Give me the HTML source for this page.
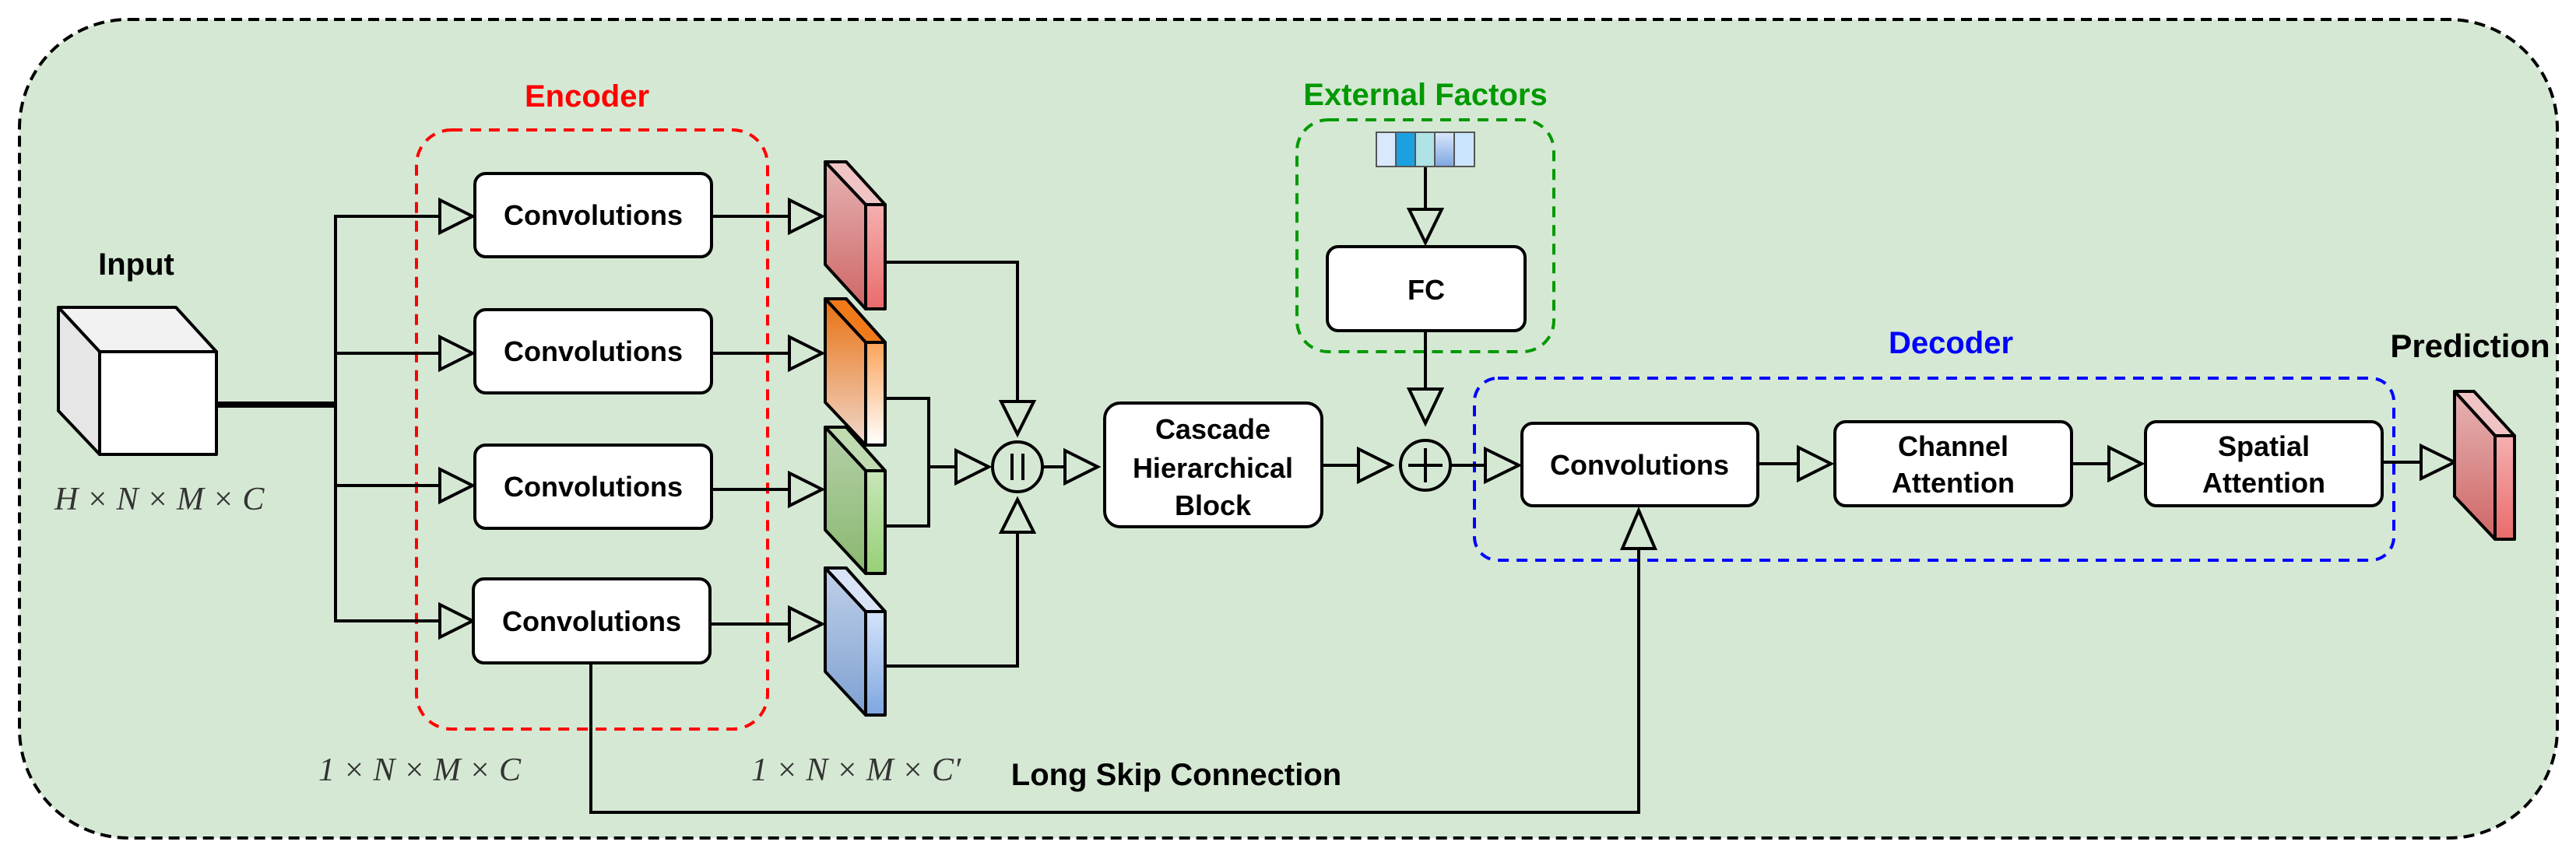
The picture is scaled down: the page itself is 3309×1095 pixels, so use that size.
<!DOCTYPE html>
<html><head><meta charset="utf-8"><style>
html,body{margin:0;padding:0;background:#fff}
svg{display:block}
text{font-family:"Liberation Sans",sans-serif;font-weight:bold}
.m{font-family:"Liberation Serif",serif;font-style:italic;font-weight:normal;font-size:42px;fill:#333}
</style></head><body>
<svg width="3309" height="1095" viewBox="0 0 3309 1095" xmlns="http://www.w3.org/2000/svg">
<defs>
<linearGradient id="rs" x1="0" y1="0" x2="0" y2="1"><stop offset="0" stop-color="#e6b3b3"/><stop offset="1" stop-color="#cf6666"/></linearGradient>
<linearGradient id="rf" x1="0" y1="0" x2="0" y2="1"><stop offset="0" stop-color="#f5b0b0"/><stop offset="1" stop-color="#ea6b6b"/></linearGradient>
<linearGradient id="os" x1="0" y1="0" x2="0" y2="1"><stop offset="0" stop-color="#e8700f"/><stop offset="1" stop-color="#f0d8cc"/></linearGradient>
<linearGradient id="of" x1="0" y1="0" x2="0" y2="1"><stop offset="0" stop-color="#fba35a"/><stop offset="1" stop-color="#ffffff"/></linearGradient>
<linearGradient id="gs" x1="0" y1="0" x2="0" y2="1"><stop offset="0" stop-color="#b5d0a8"/><stop offset="1" stop-color="#8ab870"/></linearGradient>
<linearGradient id="gf" x1="0" y1="0" x2="0" y2="1"><stop offset="0" stop-color="#c8e6b8"/><stop offset="1" stop-color="#97d077"/></linearGradient>
<linearGradient id="bs" x1="0" y1="0" x2="0" y2="1"><stop offset="0" stop-color="#c0d0e8"/><stop offset="1" stop-color="#7ea1d2"/></linearGradient>
<linearGradient id="bf" x1="0" y1="0" x2="0" y2="1"><stop offset="0" stop-color="#d4e3fa"/><stop offset="1" stop-color="#7ea6e0"/></linearGradient>
<linearGradient id="vc" x1="0" y1="0" x2="0" y2="1"><stop offset="0" stop-color="#dae8fc"/><stop offset="1" stop-color="#7ea6e0"/></linearGradient>
</defs>
<!-- outer -->
<rect x="25" y="25" width="3260" height="1052" rx="140" fill="#d5e8d4" stroke="#000" stroke-width="4" stroke-dasharray="14,8"/>
<!-- group boxes -->
<rect x="535" y="167" width="451" height="770" rx="45" fill="none" stroke="#ff0000" stroke-width="4" stroke-dasharray="14,10"/>
<rect x="1666" y="154" width="330" height="298" rx="40" fill="none" stroke="#009900" stroke-width="4" stroke-dasharray="14,10"/>
<rect x="1894" y="486" width="1181" height="234" rx="30" fill="none" stroke="#0000ff" stroke-width="4" stroke-dasharray="14,10"/>
<text x="754" y="137" font-size="40" fill="#ff0000" text-anchor="middle">Encoder</text>
<text x="1831" y="135" font-size="40" fill="#009900" text-anchor="middle">External Factors</text>
<text x="2506" y="454" font-size="40" fill="#0000ff" text-anchor="middle">Decoder</text>
<text x="175" y="353" font-size="40" fill="#000" text-anchor="middle">Input</text>
<text x="3173" y="459" font-size="42" fill="#000" text-anchor="middle">Prediction</text>
<text x="1511" y="1009" font-size="40" fill="#000" text-anchor="middle">Long Skip Connection</text>
<!-- input cube -->
<g stroke="#000" stroke-width="4" stroke-linejoin="round">
<polygon points="75,395 226,395 278,452 128,452" fill="#f2f2f2"/>
<polygon points="75,395 128,452 128,584 75,528" fill="#e6e6e6"/>
<rect x="128" y="452" width="150" height="132" fill="#fff"/>
</g>
<text class="m" x="70" y="655">H × N × M × C</text>
<text class="m" x="409" y="1003">1 × N × M × C</text>
<text class="m" x="965" y="1003">1 × N × M × C′</text>
<!-- lines -->
<g stroke="#000" stroke-width="4" fill="none">
<line x1="278" y1="520" x2="431" y2="520" stroke-width="8"/>
<polyline points="565,278 431,278 431,798 565,798"/>
<line x1="431" y1="454" x2="565" y2="454"/>
<line x1="431" y1="624" x2="565" y2="624"/>
<line x1="914" y1="278" x2="1014" y2="278"/>
<line x1="914" y1="454" x2="1014" y2="454"/>
<line x1="914" y1="629" x2="1014" y2="629"/>
<line x1="914" y1="802" x2="1014" y2="802"/>
<polyline points="1137,337 1307,337 1307,516"/>
<polyline points="1137,512 1193,512 1193,676 1137,676"/>
<line x1="1193" y1="600" x2="1228" y2="600"/>
<polyline points="1137,856 1307,856 1307,684"/>
<line x1="1338" y1="600" x2="1368" y2="600"/>
<line x1="1698" y1="598" x2="1745" y2="598"/>
<line x1="1863" y1="598" x2="1908" y2="598"/>
<line x1="1831" y1="214" x2="1831" y2="269"/>
<line x1="1831" y1="425" x2="1831" y2="500"/>
<line x1="2258" y1="596" x2="2310" y2="596"/>
<line x1="2661" y1="596" x2="2709" y2="596"/>
<line x1="3060" y1="594" x2="3110" y2="594"/>
<polyline points="759,852 759,1044 2105,1044 2105,705"/>
</g>
<!-- arrowheads -->
<g stroke="#000" stroke-width="4" fill="none" stroke-linejoin="miter">
<polygon points="565,257 607,278 565,299"/>
<polygon points="565,433 607,454 565,475"/>
<polygon points="565,603 607,624 565,645"/>
<polygon points="565,777 607,798 565,819"/>
<polygon points="1014,257 1056,278 1014,299"/>
<polygon points="1014,433 1056,454 1014,475"/>
<polygon points="1014,608 1056,629 1014,650"/>
<polygon points="1014,781 1056,802 1014,823"/>
<polygon points="1286,516 1328,516 1307,558"/>
<polygon points="1286,684 1328,684 1307,642"/>
<polygon points="1228,579 1270,600 1228,621"/>
<polygon points="1368,579 1410,600 1368,621"/>
<polygon points="1745,577 1787,598 1745,619"/>
<polygon points="1908,577 1951,598 1908,619"/>
<polygon points="1810,269 1852,269 1831,312"/>
<polygon points="1810,500 1852,500 1831,544"/>
<polygon points="2310,575 2352,596 2310,617"/>
<polygon points="2709,575 2751,596 2709,617"/>
<polygon points="3110,573 3153,594 3110,615"/>
<polygon points="2084,705 2126,705 2105,656"/>
</g>
<!-- circles -->
<g stroke="#000" stroke-width="4" fill="none">
<circle cx="1307" cy="600" r="32"/>
<line x1="1300" y1="583" x2="1300" y2="617"/><line x1="1314" y1="583" x2="1314" y2="617"/>
<circle cx="1831" cy="598" r="32"/>
<line x1="1831" y1="576" x2="1831" y2="620"/><line x1="1809" y1="598" x2="1853" y2="598"/>
</g>
<!-- boxes -->
<g stroke="#000" stroke-width="4" fill="#fff">
<rect x="610" y="223" width="304" height="107" rx="14"/>
<rect x="610" y="398" width="304" height="107" rx="14"/>
<rect x="610" y="572" width="304" height="107" rx="14"/>
<rect x="608" y="744" width="304" height="108" rx="14"/>
<rect x="1419" y="518" width="279" height="159" rx="20"/>
<rect x="1705" y="317" width="254" height="108" rx="14"/>
<rect x="1955" y="544" width="303" height="106" rx="14"/>
<rect x="2357" y="542" width="304" height="108" rx="14"/>
<rect x="2756" y="542" width="304" height="108" rx="14"/>
</g>
<g font-size="36" fill="#000" text-anchor="middle">
<text x="762" y="289">Convolutions</text>
<text x="762" y="464">Convolutions</text>
<text x="762" y="638">Convolutions</text>
<text x="760" y="811">Convolutions</text>
<text x="1558" y="564">Cascade</text>
<text x="1558" y="614">Hierarchical</text>
<text x="1558" y="662">Block</text>
<text x="1832" y="385">FC</text>
<text x="2106" y="610">Convolutions</text>
<text x="2509" y="586">Channel</text>
<text x="2509" y="633">Attention</text>
<text x="2908" y="586">Spatial</text>
<text x="2908" y="633">Attention</text>
</g>
<!-- vector -->
<g stroke="#555" stroke-width="2">
<rect x="1768" y="170" width="25" height="44" fill="#dae8fc"/>
<rect x="1793" y="170" width="25" height="44" fill="#1ba1e2"/>
<rect x="1818" y="170" width="25" height="44" fill="#b0e3e6"/>
<rect x="1843" y="170" width="25" height="44" fill="url(#vc)"/>
<rect x="1868" y="170" width="26" height="44" fill="#cce5ff"/>
</g>
<!-- slabs -->
<g stroke="#000" stroke-width="4" stroke-linejoin="round">
<polygon points="1060,208 1087,208 1137,263 1112,263" fill="#f0c4c4"/>
<polygon points="1060,208 1112,263 1112,397 1060,340" fill="url(#rs)"/>
<rect x="1112" y="263" width="25" height="134" fill="url(#rf)"/>
<polygon points="1060,384 1087,384 1137,440 1112,440" fill="#f07a1a"/>
<polygon points="1060,384 1112,440 1112,572 1060,517" fill="url(#os)"/>
<rect x="1112" y="440" width="25" height="132" fill="url(#of)"/>
<polygon points="1060,549 1087,549 1137,605 1112,605" fill="#c0dbb0"/>
<polygon points="1060,549 1112,605 1112,737 1060,681" fill="url(#gs)"/>
<rect x="1112" y="605" width="25" height="132" fill="url(#gf)"/>
<polygon points="1060,730 1087,730 1137,786 1112,786" fill="#d8e4f6"/>
<polygon points="1060,730 1112,786 1112,919 1060,863" fill="url(#bs)"/>
<rect x="1112" y="786" width="25" height="133" fill="url(#bf)"/>
<polygon points="3153,503 3178,503 3230,560 3205,560" fill="#f0c4c4"/>
<polygon points="3153,503 3205,560 3205,693 3153,638" fill="url(#rs)"/>
<rect x="3205" y="560" width="25" height="133" fill="url(#rf)"/>
</g>
</svg>
</body></html>
